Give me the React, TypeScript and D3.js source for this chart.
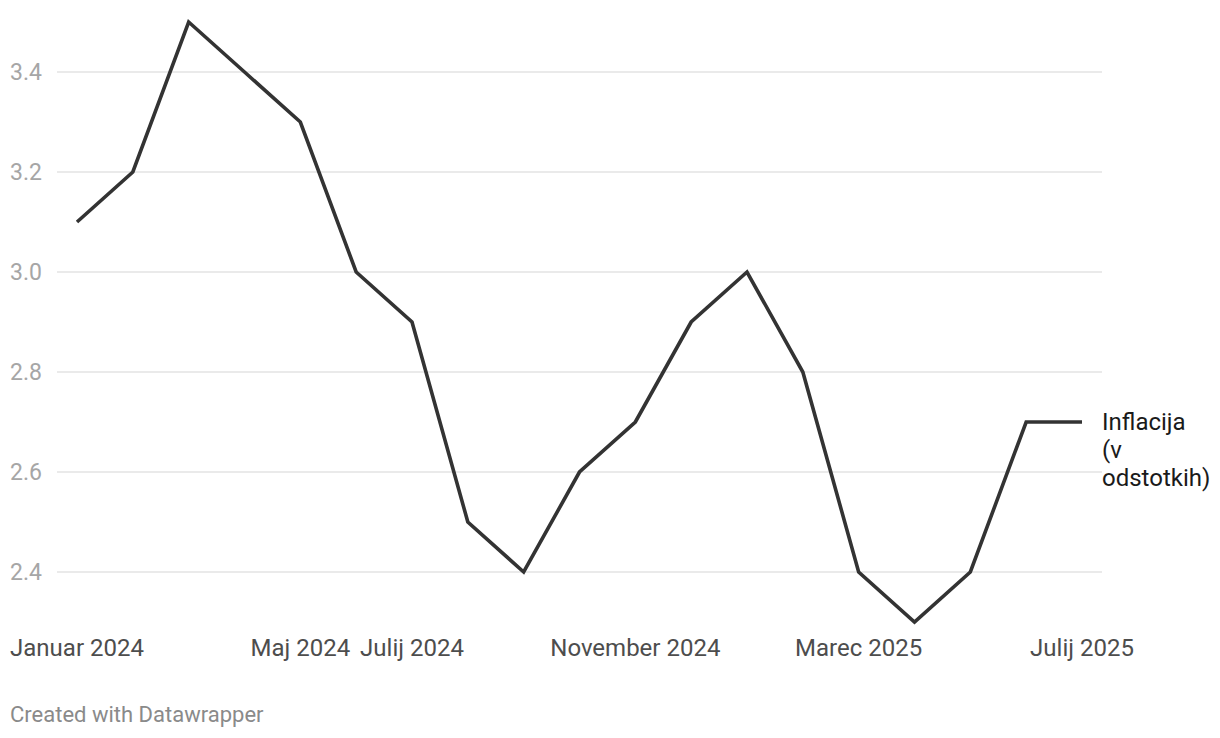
import React from "react";
import * as d3 from "d3";

const months = [
  "2024-01", "2024-02", "2024-03", "2024-04", "2024-05", "2024-06", "2024-07", "2024-08", "2024-09", "2024-10",
  "2024-11", "2024-12", "2025-01", "2025-02", "2025-03", "2025-04", "2025-05", "2025-06", "2025-07",
];
const inflation = [3.1, 3.2, 3.5, 3.4, 3.3, 3.0, 2.9, 2.5, 2.4, 2.6, 2.7, 2.9, 3.0, 2.8, 2.4, 2.3, 2.4, 2.7, 2.7];
const yTicks = [2.4, 2.6, 2.8, 3.0, 3.2, 3.4];
const xTickMonths = ["2024-01", "2024-05", "2024-07", "2024-11", "2025-03", "2025-07"];
const xTickLabels = ["Januar 2024", "Maj 2024", "Julij 2024", "November 2024", "Marec 2025", "Julij 2025"];
const seriesLabel = ["Inflacija", "(v", "odstotkih)"];

const W = 1220;
const H = 738;
const FONT = "Roboto, 'Noto Sans', sans-serif";

export default function App() {
  const x = d3.scalePoint<string>().domain(months).range([77, 1082]);
  const y = d3.scaleLinear().domain([2.3, 3.5]).range([622, 22]);
  const line = d3
    .line<number>()
    .x((_, i) => x(months[i]) as number)
    .y((d) => y(d));

  return (
    <svg width={W} height={H} style={{ position: "absolute", left: 0, top: 0, background: "#fff" }} fontFamily={FONT}>
      {yTicks.map((t) => (
        <g key={t}>
          <line x1={57} x2={1102} y1={y(t)} y2={y(t)} stroke="#e3e3e3" strokeWidth={1.5} />
          <text x={10} y={y(t)} dy="0.35em" fontSize={23} fill="#a6a6a6">
            {t.toFixed(1)}
          </text>
        </g>
      ))}
      {xTickMonths.map((m, i) => (
        <text key={m} x={x(m) as number} y={656} textAnchor="middle" fontSize={24} fill="#4d4d4d">
          {xTickLabels[i]}
        </text>
      ))}
      <path d={line(inflation) || ""} fill="none" stroke="#333333" strokeWidth={3.6} strokeLinejoin="miter" />
      <text x={1102} y={422} fontSize={24} fill="#1a1a1a">
        {seriesLabel.map((s, i) => (
          <tspan key={i} x={1102} y={422 + i * 28} dy="0.35em">
            {s}
          </tspan>
        ))}
      </text>
      <text x={10} y={722} fontSize={22} fill="#8a8a8a">
        Created with Datawrapper
      </text>
    </svg>
  );
}
